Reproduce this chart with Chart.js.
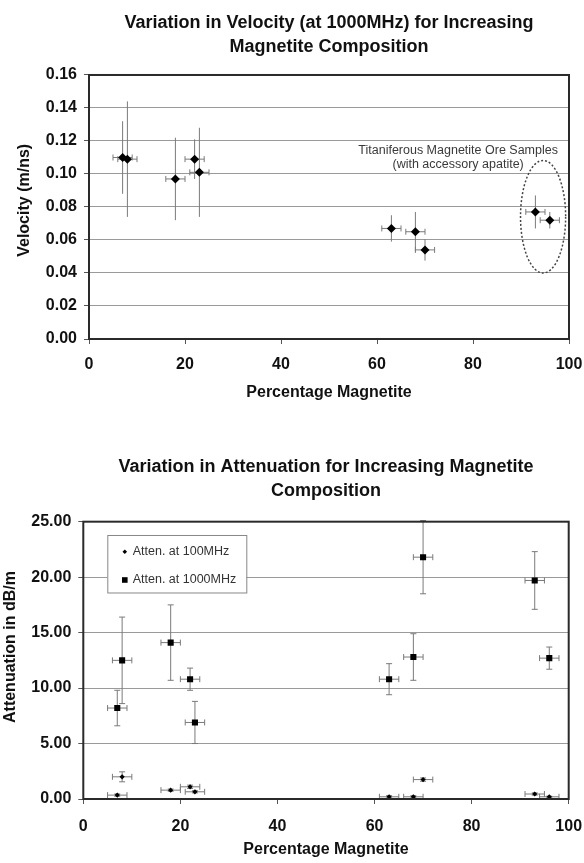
<!DOCTYPE html>
<html>
<head>
<meta charset="utf-8">
<script src="https://cdn.jsdelivr.net/npm/chart.js@4/dist/chart.umd.min.js"></script>
<style>
  html, body { margin: 0; padding: 0; background: #fff; overflow: hidden; }
  #wrap { position: relative; width: 584px; height: 863px; }
  canvas { position: absolute; left: 0; }
  #velChart { top: 0; }
  #attChart { top: 440px; }
</style>
</head>
<body>
<div id="wrap">
  <canvas id="velChart" width="584" height="410"></canvas>
  <canvas id="attChart" width="584" height="423"></canvas>
</div>
<script>
// sample composition (% magnetite) and its uncertainty
const magnetite = [7, 8, 18, 22, 23, 63, 68, 70, 93, 96];
const magnetiteErr = [2, 2, 2, 2, 2, 2, 2, 2, 2, 2];

// velocity at 1000MHz (m/ns)
const velocity = [0.110, 0.109, 0.097, 0.109, 0.101, 0.067, 0.065, 0.054, 0.077, 0.072];
const velocityErr = [0.022, 0.035, 0.025, 0.012, 0.027, 0.008, 0.012, 0.0065, 0.010, 0.005];

// attenuation (dB/m)
const atten100 = [0.35, 2.0, 0.8, 1.1, 0.65, 0.2, 0.2, 1.75, 0.45, 0.2];
const atten100Err = [0.1, 0.45, 0.1, 0.15, 0.1, 0.1, 0.1, 0.15, 0.1, 0.05];
const atten1000 = [8.2, 12.5, 14.1, 10.8, 6.9, 10.8, 12.8, 21.8, 19.7, 12.7];
const atten1000Err = [1.6, 3.9, 3.4, 1.0, 1.9, 1.4, 2.1, 3.3, 2.6, 1.0];

const xTicks = [0, 20, 40, 60, 80, 100];
const velTicks = [0, 0.02, 0.04, 0.06, 0.08, 0.10, 0.12, 0.14, 0.16];
const attTicks = [0, 5, 10, 15, 20, 25];

const oreLabel = ["Titaniferous Magnetite Ore Samples", "(with accessory apatite)"];

Chart.defaults.font.family = "'Liberation Sans', Arial, sans-serif";
Chart.defaults.color = "#111";

const FONT = "'Liberation Sans', Arial, sans-serif";

function points(ys) {
  return magnetite.map((m, i) => ({ x: m, y: ys[i] }));
}

// error bars drawn under the markers
const errorBars = {
  id: "errorBars",
  beforeDatasetsDraw(chart) {
    const ctx = chart.ctx;
    const xs = chart.scales.x, ys = chart.scales.y;
    ctx.save();
    ctx.strokeStyle = "#7a7a7a";
    ctx.lineWidth = 1;
    chart.data.datasets.forEach(ds => {
      ds.data.forEach((p, i) => {
        const px = xs.getPixelForValue(p.x), py = ys.getPixelForValue(p.y);
        const x1 = xs.getPixelForValue(p.x - ds.errX[i]), x2 = xs.getPixelForValue(p.x + ds.errX[i]);
        const y1 = ys.getPixelForValue(p.y - ds.errY[i]), y2 = ys.getPixelForValue(p.y + ds.errY[i]);
        const c = 3;
        ctx.beginPath();
        ctx.moveTo(x1, py); ctx.lineTo(x2, py);
        ctx.moveTo(x1, py - c); ctx.lineTo(x1, py + c);
        ctx.moveTo(x2, py - c); ctx.lineTo(x2, py + c);
        ctx.moveTo(px, y1); ctx.lineTo(px, y2);
        if (ds.capY) {
          ctx.moveTo(px - c, y1); ctx.lineTo(px + c, y1);
          ctx.moveTo(px - c, y2); ctx.lineTo(px + c, y2);
        }
        ctx.stroke();
      });
    });
    ctx.restore();
  }
};

const plotBorder = {
  id: "plotBorder",
  afterDatasetsDraw(chart) {
    const a = chart.chartArea, ctx = chart.ctx;
    ctx.save();
    ctx.strokeStyle = "#2a2a2a";
    ctx.lineWidth = 2;
    ctx.strokeRect(a.left, a.top, a.right - a.left, a.bottom - a.top);
    ctx.restore();
  }
};

// dotted ellipse round the ore samples, with its label
const oreGroup = {
  id: "oreGroup",
  afterDatasetsDraw(chart) {
    const ctx = chart.ctx, xs = chart.scales.x, ys = chart.scales.y;
    const cx = xs.getPixelForValue(94.6), cy = ys.getPixelForValue(0.0741);
    const rx = xs.getPixelForValue(94.6 + 4.7) - cx;
    const ry = cy - ys.getPixelForValue(0.0741 + 0.0341);
    ctx.save();
    ctx.strokeStyle = "#444";
    ctx.lineWidth = 1.5;
    ctx.setLineDash([2, 2]);
    ctx.beginPath();
    ctx.ellipse(cx, cy, rx, ry, 0, 0, Math.PI * 2);
    ctx.stroke();
    ctx.setLineDash([]);
    ctx.fillStyle = "#3a3a3a";
    ctx.font = "12.5px " + FONT;
    ctx.textAlign = "center";
    ctx.textBaseline = "middle";
    const tx = xs.getPixelForValue(76.9);
    ctx.fillText(oreLabel[0], tx, ys.getPixelForValue(0.1145));
    ctx.fillText(oreLabel[1], tx, ys.getPixelForValue(0.1060));
    ctx.restore();
  }
};

// boxed legend inside the plot area
const boxLegend = {
  id: "boxLegend",
  afterDatasetsDraw(chart) {
    const ctx = chart.ctx, a = chart.chartArea;
    const bx = a.left + 24, by = a.top + 13.3, bw = 139, bh = 57.5;
    ctx.save();
    ctx.fillStyle = "#fff";
    ctx.fillRect(bx, by, bw, bh);
    ctx.strokeStyle = "#888";
    ctx.lineWidth = 1;
    ctx.strokeRect(bx + 0.5, by + 0.5, bw, bh);
    ctx.font = "12.5px " + FONT;
    ctx.textBaseline = "middle";
    chart.data.datasets.forEach((ds, i) => {
      const y = by + 16.7 + i * 28.3, mx = bx + 17.5;
      ctx.fillStyle = "#000";
      ctx.beginPath();
      if (ds.pointStyle === "rect") {
        ctx.rect(mx - 2.8, y - 2.8, 5.6, 5.6);
      } else {
        ctx.moveTo(mx, y - 2.3); ctx.lineTo(mx + 2.3, y); ctx.lineTo(mx, y + 2.3); ctx.lineTo(mx - 2.3, y);
        ctx.closePath();
      }
      ctx.fill();
      ctx.fillStyle = "#333";
      ctx.fillText(ds.label, bx + 25.4, y);
    });
    ctx.restore();
  }
};

function baseOptions(o) {
  return {
    responsive: false,
    animation: false,
    events: [],
    layout: { padding: { left: 0, right: o.right, top: 0, bottom: 0 } },
    plugins: {
      legend: { display: false },
      tooltip: { enabled: false },
      title: {
        display: true,
        fullSize: false,
        text: o.title,
        color: "#111",
        font: { size: 18, weight: "bold", lineHeight: 1.333 },
        padding: o.titlePad
      }
    },
    scales: {
      x: {
        type: "linear",
        min: 0, max: 100,
        afterBuildTicks: s => { s.ticks = xTicks.map(v => ({ value: v })); },
        afterFit: s => { s.height = o.xHeight; s.paddingLeft = 0; s.paddingRight = 0; },
        border: { display: false },
        grid: { drawOnChartArea: false, drawTicks: true, tickLength: 5, tickColor: "#555" },
        ticks: { font: { size: 16, weight: "bold" }, color: "#111", padding: o.xTickPad, maxRotation: 0 },
        title: {
          display: true, text: "Percentage Magnetite", color: "#111",
          font: { size: 16, weight: "bold" }, padding: { top: 0, bottom: o.xTitlePad }
        }
      },
      y: {
        type: "linear",
        min: o.yMin, max: o.yMax,
        afterBuildTicks: s => { s.ticks = o.yTicks.map(v => ({ value: v })); },
        afterFit: s => { s.width = o.yWidth; },
        border: { display: false },
        grid: { color: "#9a9a9a", lineWidth: 1, drawTicks: true, tickLength: 5, tickColor: "#555" },
        ticks: {
          font: { size: 16, weight: "bold" }, color: "#111", padding: 7,
          callback: v => Number(v).toFixed(2)
        },
        title: {
          display: true, text: o.yTitle, color: "#111",
          font: { size: 16, weight: "bold" }, padding: { top: o.yTitlePad, bottom: 0 }
        }
      }
    }
  };
}

new Chart(document.getElementById("velChart"), {
  type: "scatter",
  data: {
    datasets: [{
      label: "Velocity",
      data: points(velocity),
      errX: magnetiteErr,
      errY: velocityErr,
      capY: false,
      pointStyle: "rectRot",
      pointRadius: 4.5,
      pointBackgroundColor: "#000",
      pointBorderWidth: 0
    }]
  },
  options: baseOptions({
    right: 15,
    title: ["Variation in Velocity (at 1000MHz) for Increasing", "Magnetite Composition"],
    titlePad: { top: 10.7, bottom: 16.3 },
    xHeight: 71, xTickPad: 11, xTitlePad: 7.4,
    yMin: 0, yMax: 0.16, yTicks: velTicks, yWidth: 89,
    yTitle: "   Velocity (m/ns)", yTitlePad: 15.4
  }),
  plugins: [errorBars, plotBorder, oreGroup]
});

new Chart(document.getElementById("attChart"), {
  type: "scatter",
  data: {
    datasets: [{
      label: "Atten. at 100MHz",
      data: points(atten100),
      errX: magnetiteErr,
      errY: atten100Err,
      capY: true,
      pointStyle: "rectRot",
      pointRadius: 2.6,
      pointBackgroundColor: "#000",
      pointBorderWidth: 0
    }, {
      label: "Atten. at 1000MHz",
      data: points(atten1000),
      errX: magnetiteErr,
      errY: atten1000Err,
      capY: true,
      pointStyle: "rect",
      pointRadius: 4.3,
      pointBackgroundColor: "#000",
      pointBorderWidth: 0
    }]
  },
  options: baseOptions({
    right: 15.3,
    title: ["Variation in Attenuation for Increasing Magnetite", "Composition"],
    titlePad: { top: 14.7, bottom: 19 },
    xHeight: 64, xTickPad: 13, xTitlePad: 3.4,
    yMin: 0, yMax: 25, yTicks: attTicks, yWidth: 83.3,
    yTitle: "      Attenuation in dB/m", yTitlePad: 1.4
  }),
  plugins: [errorBars, plotBorder, boxLegend]
});
</script>
</body>
</html>
